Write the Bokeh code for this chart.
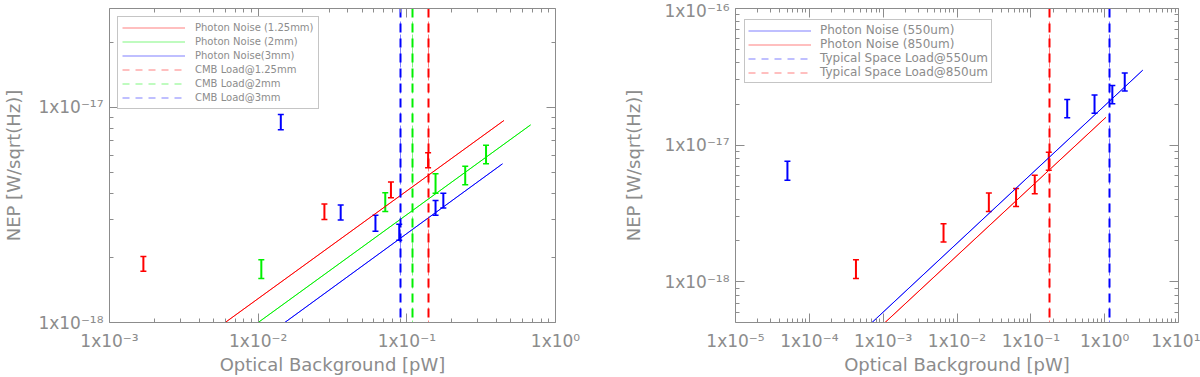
from bokeh.plotting import figure
from bokeh.layouts import row
from bokeh.models import (ColumnDataSource, Whisker, TeeHead, FixedTicker, LogAxis,
                          CustomJSTickFormatter, Legend, LegendItem)
from bokeh.embed import file_html
from bokeh.resources import INLINE

# ---------------- Left panel: ground-based bands ----------------
L_XLIM = (1e-3, 1e0)
L_YLIM = (1e-18, 2.886e-17)
L_XTICKS = [1e-3, 1e-2, 1e-1, 1e0]
L_YTICKS = [1e-18, 1e-17]

# photon-noise lines (endpoints)
pn125_x = [6.0e-3, 0.45]
pn125_y = [1.0e-18, 8.7e-18]
pn2_x = [1.0e-2, 0.68]
pn2_y = [1.0e-18, 8.3e-18]
pn3_x = [1.51e-2, 0.44]
pn3_y = [1.0e-18, 5.47e-18]

# CMB loads [pW]
cmb_125 = [0.14]
cmb_2 = [0.11]
cmb_3 = [0.09]

# measured points (error bars)
l_red_x = [1.69e-3, 0.0279, 0.0782, 0.139]
l_red_lo = [1.73e-18, 3.01e-18, 3.80e-18, 5.24e-18]
l_red_hi = [2.03e-18, 3.56e-18, 4.50e-18, 6.15e-18]

l_green_x = [0.0105, 0.0716, 0.156, 0.247, 0.341]
l_green_lo = [1.60e-18, 3.28e-18, 3.99e-18, 4.37e-18, 5.47e-18]
l_green_hi = [1.96e-18, 4.01e-18, 4.92e-18, 5.33e-18, 6.68e-18]

l_blue_x = [0.0142, 0.0359, 0.0615, 0.0889, 0.156, 0.176]
l_blue_lo = [7.88e-18, 3.00e-18, 2.66e-18, 2.41e-18, 3.15e-18, 3.41e-18]
l_blue_hi = [9.27e-18, 3.52e-18, 3.15e-18, 2.86e-18, 3.69e-18, 3.99e-18]

# ---------------- Right panel: space bands ----------------
R_XLIM = (1e-5, 1e1)
R_YLIM = (5.05e-19, 1e-16)
R_XTICKS = [1e-5, 1e-4, 1e-3, 1e-2, 1e-1, 1e0, 1e1]
R_YTICKS = [1e-18, 1e-17, 1e-16]

pn550_x = [7.06e-4, 3.28]
pn550_y = [5.05e-19, 3.54e-17]
pn850_x = [1.06e-3, 1.04]
pn850_y = [5.05e-19, 1.60e-17]

space_550 = [1.16]
space_850 = [0.177]

r_blue_x = [5.05e-5, 0.311, 0.729, 1.27, 1.87]
r_blue_lo = [5.55e-18, 1.59e-17, 1.71e-17, 2.01e-17, 2.49e-17]
r_blue_hi = [7.62e-18, 2.16e-17, 2.33e-17, 2.73e-17, 3.38e-17]

r_red_x = [4.28e-4, 6.57e-3, 0.0270, 0.0631, 0.113, 0.175]
r_red_lo = [1.06e-18, 1.96e-18, 3.27e-18, 3.57e-18, 4.41e-18, 6.56e-18]
r_red_hi = [1.45e-18, 2.66e-18, 4.47e-18, 4.82e-18, 6.03e-18, 8.89e-18]

# ---------------- styling ----------------
GRAY = "#8c8c8c"
RED, GREEN, BLUE = "#ff0000", "#00f000", "#0000ff"
FONT = "DejaVu Sans"
FIG_H = 377
B_TOP, B_BOTTOM = 8, 55
FRAME_H = FIG_H - B_TOP - B_BOTTOM
DASH = "9 6"
PALE = 0.5

LABEL_JS = """
const sup = {"-": "\u207b", "0": "\u2070", "1": "\u00b9", "2": "\u00b2", "3": "\u00b3",
             "4": "\u2074", "5": "\u2075", "6": "\u2076", "7": "\u2077", "8": "\u2078", "9": "\u2079"};
const e = Math.round(Math.log10(tick));
let s = "";
for (const c of String(e)) { s += sup[c]; }
return "1x10" + s;
"""


def minors(majors, lo, hi):
    out = []
    for m in majors + [majors[0] / 10]:
        for k in range(2, 10):
            v = m * k
            if lo <= v <= hi:
                out.append(v)
    return sorted(out)


def style_axis(ax, label_size="17px"):
    ax.axis_line_color = GRAY
    ax.major_tick_line_color = GRAY
    ax.minor_tick_line_color = GRAY
    ax.major_tick_in = 9
    ax.major_tick_out = 0
    ax.minor_tick_in = 4
    ax.minor_tick_out = 0
    ax.major_label_text_font = FONT
    ax.major_label_text_font_size = label_size
    ax.major_label_text_color = GRAY
    ax.axis_label_text_font = FONT
    ax.axis_label_text_font_size = "18px"
    ax.axis_label_text_font_style = "normal"
    ax.axis_label_text_color = GRAY


def make_fig(width, bl, br, xlim, ylim, xt, yt, ylab_standoff, ylab_axis_standoff):
    p = figure(width=width, height=FIG_H, x_axis_type="log", y_axis_type="log",
               x_range=xlim, y_range=ylim, output_backend="svg", toolbar_location=None,
               min_border_left=bl, min_border_right=br, min_border_top=B_TOP,
               min_border_bottom=B_BOTTOM)
    p.grid.visible = False
    p.outline_line_color = None
    p.background_fill_color = "white"
    p.border_fill_color = "white"
    xtick = FixedTicker(ticks=xt, minor_ticks=minors(xt, *xlim))
    ytick = FixedTicker(ticks=yt, minor_ticks=minors(yt, *ylim))
    fmt = CustomJSTickFormatter(code=LABEL_JS)
    p.xaxis.ticker = xtick
    p.yaxis.ticker = ytick
    p.xaxis.formatter = fmt
    p.yaxis.formatter = fmt
    p.xaxis.axis_label = "Optical Background [pW]"
    p.yaxis.axis_label = "NEP [W/sqrt(Hz)]"
    for ax in p.xaxis + p.yaxis:
        style_axis(ax)
    p.xaxis.major_label_standoff = 8
    p.xaxis.axis_label_standoff = 0
    p.yaxis.major_label_standoff = ylab_standoff
    p.yaxis.axis_label_standoff = ylab_axis_standoff
    blank = CustomJSTickFormatter(code="return ''")
    top = LogAxis(ticker=xtick, formatter=blank)
    right = LogAxis(ticker=ytick, formatter=blank)
    for ax in (top, right):
        style_axis(ax, "0px")
        ax.major_label_standoff = 0
    p.add_layout(top, "above")
    p.add_layout(right, "right")
    return p


def errbars(p, xs, lo, hi, color):
    src = ColumnDataSource(dict(x=xs, lo=lo, hi=hi))
    w = Whisker(source=src, base="x", lower="lo", upper="hi", dimension="height",
                line_color=color, line_width=2,
                lower_head=TeeHead(size=6, line_color=color, line_width=1.5),
                upper_head=TeeHead(size=6, line_color=color, line_width=1.5))
    p.add_layout(w)


def add_line(p, xs, ys, color, label, items):
    # pale copy (hidden underneath) gives the legend its light look
    pale = p.line(xs, ys, line_color=color, line_alpha=PALE, line_width=1)
    p.line(xs, ys, line_color=color, line_width=1)
    items.append(LegendItem(label=label, renderers=[pale]))


def add_vline(p, xs, color, label, items):
    pale = p.vspan(x=xs, line_color=color, line_alpha=PALE, line_width=1, line_dash="7 6")
    p.vspan(x=xs, line_color=color, line_width=2, line_dash=DASH)
    items.append(LegendItem(label=label, renderers=[pale]))


def add_legend(p, items, x_off, top_off, font_size, label_h, row_h, spacing, pad,
               glyph_w, standoff):
    n = len(items)
    height = 2 * pad + n * row_h + (n - 1) * spacing
    lg = Legend(items=items, location=(x_off, FRAME_H - top_off - height),
                padding=pad, spacing=spacing, margin=0, label_height=label_h,
                glyph_height=label_h, glyph_width=glyph_w, label_standoff=standoff,
                label_text_font=FONT, label_text_font_size=font_size,
                label_text_color=GRAY, border_line_color=GRAY, border_line_width=1,
                background_fill_alpha=1.0)
    p.add_layout(lg, "center")


# ---------------- left figure ----------------
left = make_fig(620, 106, 65, L_XLIM, L_YLIM, L_XTICKS, L_YTICKS, 6, 11)
litems = []
add_line(left, pn125_x, pn125_y, RED, "Photon Noise (1.25mm)", litems)
add_line(left, pn2_x, pn2_y, GREEN, "Photon Noise (2mm)", litems)
add_line(left, pn3_x, pn3_y, BLUE, "Photon Noise(3mm)", litems)
add_vline(left, cmb_125, RED, "CMB Load@1.25mm", litems)
add_vline(left, cmb_2, GREEN, "CMB Load@2mm", litems)
add_vline(left, cmb_3, BLUE, "CMB Load@3mm", litems)
errbars(left, l_red_x, l_red_lo, l_red_hi, RED)
errbars(left, l_green_x, l_green_lo, l_green_hi, GREEN)
errbars(left, l_blue_x, l_blue_lo, l_blue_hi, BLUE)
add_legend(left, litems, 8, 10, "10px", 13, 13, 1, 4, 63, 10)

# ---------------- right figure ----------------
right = make_fig(580, 108, 22, R_XLIM, R_YLIM, R_XTICKS, R_YTICKS, 6, 17)
ritems = []
add_line(right, pn550_x, pn550_y, BLUE, "Photon Noise (550um)", ritems)
add_line(right, pn850_x, pn850_y, RED, "Photon Noise (850um)", ritems)
add_vline(right, space_550, BLUE, "Typical Space Load@550um", ritems)
add_vline(right, space_850, RED, "Typical Space Load@850um", ritems)
errbars(right, r_blue_x, r_blue_lo, r_blue_hi, BLUE)
errbars(right, r_red_x, r_red_lo, r_red_hi, RED)
add_legend(right, ritems, 9, 9, "12px", 13, 15, 0, 3, 63, 9)

layout = row(left, right)
open("out.html", "w").write(file_html(layout, INLINE))
